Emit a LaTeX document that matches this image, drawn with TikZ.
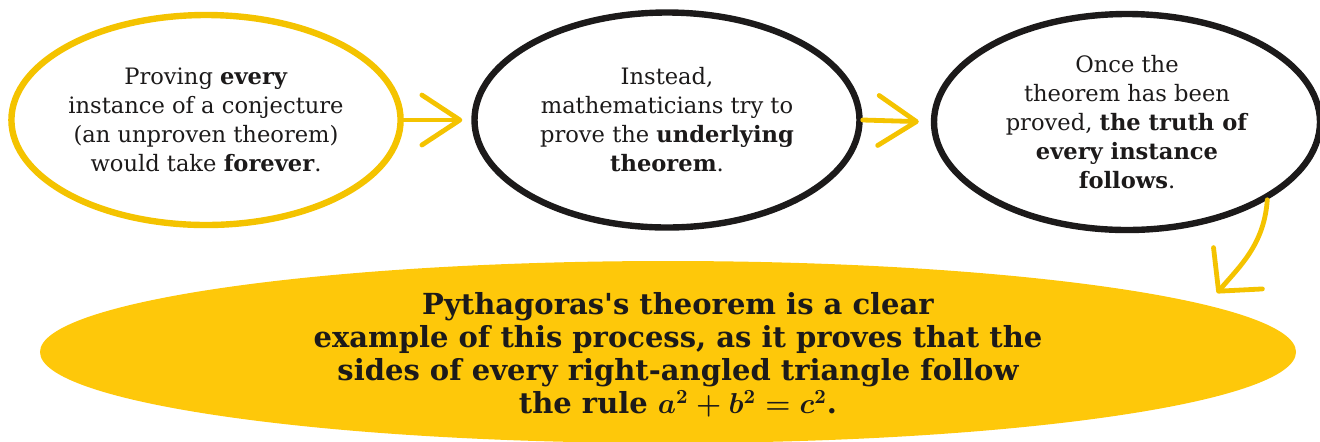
\documentclass[tikz,border=0pt]{standalone}
\usepackage{fontspec}
\setmainfont{DejaVu Serif}
\usetikzlibrary{shapes.geometric,arrows.meta}
\definecolor{ylw}{HTML}{F4C300}
\definecolor{ylwfill}{HTML}{FEC80A}
\definecolor{ink}{HTML}{1C1A1A}
\begin{document}
\begin{tikzpicture}[x=0.5pt,y=-0.5pt,
  bubble/.style={ellipse, line width=3.2pt, inner sep=0pt, align=center,
    text=ink, font=\fontsize{11.3}{14.5}\selectfont},
  arr/.style={draw=ylw, line width=2.4pt, line cap=round,
    -{Straight Barb[length=19pt,width=25pt,line cap=round,line join=round]}},
  arrdown/.style={draw=ylw, line width=2.4pt, line cap=round,
    -{Straight Barb[length=15pt,width=32pt,line cap=round,line join=round]}},
  bigtext/.style={align=center, text=ink, font=\bfseries\fontsize{14.5}{16.5}\selectfont}]
\useasboundingbox (0,0) rectangle (1320,441);
\node[ellipse, fill=ylwfill, minimum width=628pt, minimum height=91pt, inner sep=0pt] (e4) at (668,352) {};
\node[bigtext] (t4) at (678,355) {Pythagoras\textquotesingle s theorem is a clear\\
example of this process, as it proves that the\\
sides of every right-angled triangle follow\\
the rule {\boldmath$a^2+b^2=c^2$}.};
\node[bubble, draw=ylw, minimum width=194pt, minimum height=105pt] (e1) at (206,120)
  {Proving \textbf{every}\\ instance of a conjecture\\ (an unproven theorem)\\ would take \textbf{forever}.};
\node[bubble, draw=ink, minimum width=192.5pt, minimum height=107.5pt] (e2) at (667,120)
  {Instead,\\ mathematicians try to\\ prove the \textbf{underlying}\\ \textbf{theorem}.};
\node[bubble, draw=ink, minimum width=193pt, minimum height=108pt] (e3) at (1127,122)
  {Once the\\ theorem has been\\ proved, \textbf{the truth of}\\ \textbf{every instance}\\ \textbf{follows}.};
\coordinate (t3) at (1217,293);
\draw[arr, shorten >=4.5pt] (e1.east) -- (e2.west);
\draw[arr, shorten >=6pt] (e2.east) -- (e3.west);
\draw[arrdown] (e3.-29) .. controls +(-3,45) and +(22,-26) .. (t3);
\end{tikzpicture}
\end{document}
